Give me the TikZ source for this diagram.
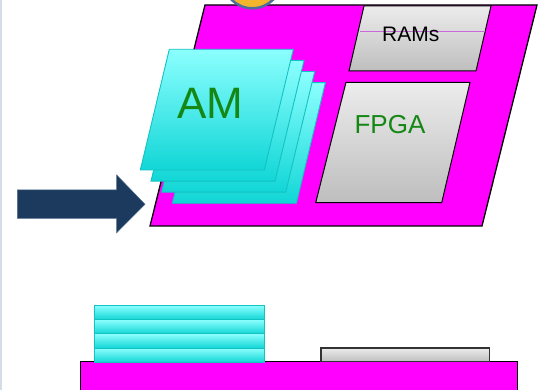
\documentclass[tikz,border=0pt]{standalone}
\usepackage{fontspec}
\setmainfont{Liberation Sans}
\definecolor{boardmag}{RGB}{255,0,255}
\definecolor{cyanlight}{RGB}{140,255,255}
\definecolor{cyandark}{RGB}{18,214,214}
\definecolor{cyanedge}{RGB}{20,194,194}
\definecolor{chiplight}{RGB}{236,236,236}
\definecolor{chipdark}{RGB}{190,190,190}
\definecolor{labelgreen}{RGB}{20,135,20}
\definecolor{arrownavy}{RGB}{27,58,94}
\definecolor{arrowedge}{RGB}{80,106,140}
\definecolor{sunfill}{RGB}{242,181,44}
\definecolor{sunedge}{RGB}{78,110,156}
\definecolor{slideedge}{RGB}{212,220,232}
\definecolor{ramline}{RGB}{204,102,221}
\begin{document}
\begin{tikzpicture}[x=1pt,y=-1pt,
  board/.style={fill=boardmag, draw=black, line width=1.3pt, line join=miter},
  layer/.style={top color=cyanlight, bottom color=cyandark, draw=cyanedge, line width=0.9pt},
  chip/.style={top color=chiplight, bottom color=chipdark, draw=black, line width=1pt},
  flatchip/.style={top color=chiplight, bottom color=chipdark, draw=black!80, line width=1.2pt},
  label/.style={inner sep=0pt, font=\fontsize{#1}{#1}\selectfont},
  arrowbody/.style={fill=arrownavy, draw=arrowedge, line width=0.5pt}]
\useasboundingbox (0,0) rectangle (541,390);
\clip (0,0) rectangle (541,390);

% slide edge
\draw[slideedge, line width=1.2pt] (1,0) -- (1,390);

% top view: board
\coordinate (b1) at (205,5);
\coordinate (b2) at (537,5);
\coordinate (b3) at (482,226);
\coordinate (b4) at (150,226);
\draw[board] (b1) -- (b2) -- (b3) -- (b4) -- cycle;

% RAMs chip
\coordinate (r1) at (364,6);
\coordinate (r2) at (491,6);
\coordinate (r3) at (476,71);
\coordinate (r4) at (349,71);
\draw[chip] (r1) -- (r2) -- (r3) -- (r4) -- cycle;
\coordinate (rl1) at (360,31);
\coordinate (rl2) at (485,31);
\draw[ramline, line width=0.5pt] (rl1) -- (rl2);
\node[label=21] (rams) at (410.8,34.2) {RAMs};

% FPGA chip
\coordinate (f1) at (346,82.3);
\coordinate (f2) at (470,82.3);
\coordinate (f3) at (441.7,202.7);
\coordinate (f4) at (315.7,202.7);
\draw[chip] (f1) -- (f2) -- (f3) -- (f4) -- cycle;
\node[label=26, text=labelgreen] (fpga) at (390,124.5) {FPGA};

% stacked AM layers, back to front
\foreach \k in {3,2,1,0}{
  \begin{scope}[shift={(10.7*\k,11.1*\k)}]
    \draw[layer] (169.3,49.3) -- (293.3,49.3) -- (264.3,170) -- (140.3,170) -- cycle;
  \end{scope}
}
\node[label=44, text=labelgreen] (am) at (210,103.7) {AM};

% sun at the top edge
\coordinate (sun) at (252.3,-21.2);
\draw[fill=sunfill, draw=sunedge, line width=2.5pt] (sun) circle[radius=29.5];

% input arrow
\draw[arrowbody] (17.3,190) -- (116.7,190) -- (116.7,175) -- (145,204.3)
  -- (116.7,232.7) -- (116.7,218.3) -- (17.3,218.3) -- cycle;

% side view: board
\coordinate (s1) at (80.5,361.5);
\coordinate (s2) at (517.5,393);
\draw[board] (s1) rectangle (s2);

% side view: RAM/FPGA chip
\coordinate (c1) at (321,348);
\coordinate (c2) at (489.5,361.5);
\draw[flatchip] (c1) rectangle (c2);

% side view: AM layers
\foreach \k in {0,1,2,3}{
  \draw[layer] (94.3,305.3+14.25*\k) rectangle (264,319.55+14.25*\k);
}
\end{tikzpicture}
\end{document}
